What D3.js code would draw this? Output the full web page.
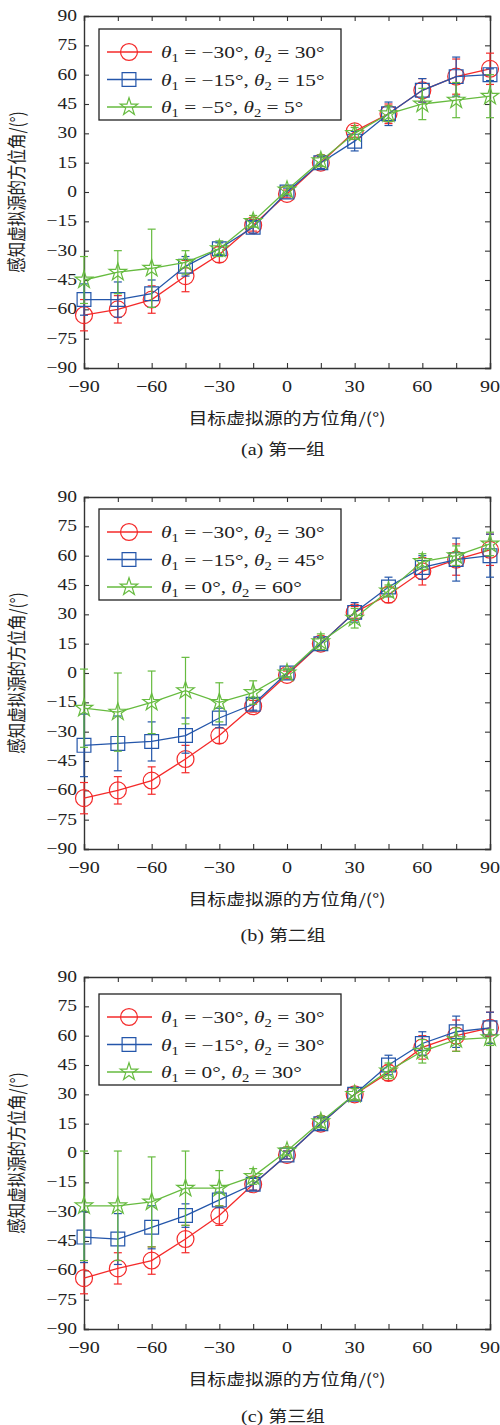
<!DOCTYPE html>
<html>
<head>
<meta charset="utf-8">
<script src="https://cdn.jsdelivr.net/npm/d3@7"></script>
<style>
  body { margin: 0; background: #fff; }
  text { font-family: "Liberation Serif", "DejaVu Serif", serif; fill: #222; }
  .cjk { font-family: "Noto Sans CJK SC", sans-serif; }
</style>
</head>
<body>
<div id="chart"></div>
<script>
// target angles (x) shared by all three groups
var xAngles = [-90, -75, -60, -45, -30, -15, 0, 15, 30, 45, 60, 75, 90];
var axisTicks = [-90, -75, -60, -45, -30, -15, 0, 15, 30, 45, 60, 75, 90];
var xLabelTicks = [-90, -60, -30, 0, 30, 60, 90];

// (a) group one
var aRed = [-63, -60, -55, -43, -32, -17, -1, 15, 31, 40, 52, 59, 63];
var aRedErr = [8, 7, 7, 8, 4, 3, 2, 3, 3, 5, 6, 9, 8];
var aBlue = [-55, -55, -52, -38, -29, -18, 0, 15, 26, 40, 52, 59, 60];
var aBlueErr = [8, 9, 7, 5, 3, 3, 2, 3, 5, 6, 6, 10, 3];
var aGreen = [-45, -41, -39, -36, -29, -15, 1, 16, 30, 40, 45, 47, 49];
var aGreenErr = [12, 11, 20, 6, 4, 3, 2, 3, 3, 4, 8, 9, 11];
var aLegend = [["\u221230\u00b0", "30\u00b0"], ["\u221215\u00b0", "15\u00b0"], ["\u22125\u00b0", "5\u00b0"]];

// (b) group two
var bRed = [-64, -60, -55, -44, -32, -17, -1, 15, 31, 40, 52, 58, 63];
var bRedErr = [8, 7, 7, 7, 4, 3, 2, 3, 3, 4, 7, 8, 8];
var bBlue = [-37, -36, -35, -32, -23, -16, 0, 15, 31, 44, 54, 58, 60];
var bBlueErr = [16, 14, 10, 9, 5, 3, 2, 3, 5, 5, 6, 11, 11];
var bGreen = [-18, -20, -15, -9, -15, -10, 0, 16, 28, 42, 57, 60, 66];
var bGreenErr = [20, 20, 16, 17, 10, 6, 2, 4, 5, 3, 4, 5, 6];
var bLegend = [["\u221230\u00b0", "30\u00b0"], ["\u221215\u00b0", "45\u00b0"], ["0\u00b0", "60\u00b0"]];

// (c) group three
var cRed = [-64, -59, -55, -44, -32, -16, -1, 15, 30, 41, 54, 60, 64];
var cRedErr = [8, 8, 7, 7, 5, 3, 2, 3, 3, 4, 6, 8, 8];
var cBlue = [-43, -44, -38, -32, -24, -16, -1, 15, 30, 45, 56, 62, 64];
var cBlueErr = [13, 13, 11, 6, 4, 3, 2, 3, 3, 5, 6, 8, 8];
var cGreen = [-27, -27, -25, -18, -18, -12, 1, 16, 30, 42, 52, 58, 59];
var cGreenErr = [28, 28, 23, 19, 9, 4, 2, 3, 3, 4, 6, 6, 4];
var cLegend = [["\u221230\u00b0", "30\u00b0"], ["\u221215\u00b0", "30\u00b0"], ["0\u00b0", "30\u00b0"]];

var captions = ["(a) \u7b2c\u4e00\u7ec4", "(b) \u7b2c\u4e8c\u7ec4", "(c) \u7b2c\u4e09\u7ec4"];
var xTitle = "\u76ee\u6807\u865a\u62df\u6e90\u7684\u65b9\u4f4d\u89d2/(\u00b0)";
var yTitle = "\u611f\u77e5\u865a\u62df\u6e90\u7684\u65b9\u4f4d\u89d2/(\u00b0)";

var colors = ["#f42a2a", "#2456aa", "#66bb3f"];
var SX = 1.22; // the figure is stretched horizontally

var panels = [
    {top: 16, caption: 455, legendY: 13, series: [[aRed, aRedErr], [aBlue, aBlueErr], [aGreen, aGreenErr]], legend: aLegend},
    {top: 497, caption: 941, legendY: 12, series: [[bRed, bRedErr], [bBlue, bBlueErr], [bGreen, bGreenErr]], legend: bLegend},
    {top: 977, caption: 1422, legendY: 17, series: [[cRed, cRedErr], [cBlue, cBlueErr], [cGreen, cGreenErr]], legend: cLegend}
];

var left = 84, right = 490, plotH = 352;

var svg = d3.select("#chart").append("svg")
    .attr("width", 500)
    .attr("height", 1425);

var x = d3.scaleLinear().domain([-90, 90]).range([left, right]);

var symbols = [
    d3.symbol().type(d3.symbolCircle).size(225),
    d3.symbol().type(d3.symbolSquare).size(190),
    d3.symbol().type(d3.symbolStar).size(95)
];

function addText(g, px, py, anchor, size) {
    return g.append("text")
        .attr("transform", "translate(" + px + "," + py + ") scale(" + SX + ",1)")
        .attr("text-anchor", anchor)
        .style("font-size", size + "px");
}

function fmt(v) {
    return v < 0 ? "\u2212" + Math.abs(v) : String(v);
}

panels.forEach(function (p, pi) {
    var g = svg.append("g");
    var y = d3.scaleLinear().domain([-90, 90]).range([p.top + plotH, p.top]);

    // axes with inward ticks on all four sides
    var bottomAxis = d3.axisBottom(x).tickValues(axisTicks).tickSize(-5).tickFormat("");
    var topAxis = d3.axisTop(x).tickValues(axisTicks).tickSize(-5).tickFormat("");
    var leftAxis = d3.axisLeft(y).tickValues(axisTicks).tickSize(-5).tickFormat("");
    var rightAxis = d3.axisRight(y).tickValues(axisTicks).tickSize(-5).tickFormat("");

    [[bottomAxis, "translate(0," + (p.top + plotH) + ")"],
     [topAxis, "translate(0," + p.top + ")"],
     [leftAxis, "translate(" + left + ",0)"],
     [rightAxis, "translate(" + right + ",0)"]].forEach(function (a) {
        var ag = g.append("g").attr("transform", a[1]).call(a[0]);
        ag.select(".domain").attr("stroke", "#333").attr("stroke-width", 1.4);
        ag.selectAll(".tick line").attr("stroke", "#333").attr("stroke-width", 1.1);
    });

    // tick labels
    axisTicks.forEach(function (v) {
        addText(g, left - 7, y(v) + 5, "end", 16).text(fmt(v));
    });
    xLabelTicks.forEach(function (v) {
        addText(g, x(v), p.top + plotH + 24, "middle", 16.5).text(fmt(v));
    });

    // axis titles and caption
    addText(g, 287, p.top + plotH + 56, "middle", 15.5).attr("class", "cjk").text(xTitle);
    g.append("text")
        .attr("class", "cjk")
        .attr("transform", "translate(24," + (p.top + plotH / 2) + ") scale(" + SX + ",1) rotate(-90)")
        .attr("text-anchor", "middle")
        .style("font-size", "15.5px")
        .text(yTitle);
    var cap = addText(g, 283, p.caption, "middle", 16.5);
    cap.append("tspan").text(captions[pi].slice(0, 4));
    cap.append("tspan").attr("class", "cjk").style("font-size", "15.5px").text(captions[pi].slice(4));

    // series: line, error bars, markers
    p.series.forEach(function (s, si) {
        var vals = s[0], errs = s[1];
        var pts = xAngles.map(function (a, i) { return {x: a, y: vals[i], e: errs[i]}; });
        var col = colors[si];
        var sg = g.append("g");

        var line = d3.line()
            .x(function (d) { return x(d.x); })
            .y(function (d) { return y(d.y); });

        sg.append("path")
            .attr("d", line(pts))
            .attr("fill", "none")
            .attr("stroke", col)
            .attr("stroke-width", 1.3);

        pts.forEach(function (d) {
            var cx = x(d.x), y1 = y(d.y - d.e), y2 = y(d.y + d.e);
            sg.append("line").attr("x1", cx).attr("x2", cx).attr("y1", y1).attr("y2", y2)
                .attr("stroke", col).attr("stroke-width", 1.2);
            sg.append("line").attr("x1", cx - 4).attr("x2", cx + 4).attr("y1", y1).attr("y2", y1)
                .attr("stroke", col).attr("stroke-width", 1.2);
            sg.append("line").attr("x1", cx - 4).attr("x2", cx + 4).attr("y1", y2).attr("y2", y2)
                .attr("stroke", col).attr("stroke-width", 1.2);
        });

        sg.selectAll("path.mk")
            .data(pts)
            .enter().append("path")
            .attr("class", "mk")
            .attr("d", symbols[si])
            .attr("transform", function (d) { return "translate(" + x(d.x) + "," + y(d.y) + ")"; })
            .attr("fill", "none")
            .attr("stroke", col)
            .attr("stroke-width", 1.2);
    });

    // legend
    var lx = 99, ly = p.top + p.legendY;
    g.append("rect")
        .attr("x", lx).attr("y", ly).attr("width", 242).attr("height", 91)
        .attr("fill", "#fff").attr("stroke", "#222").attr("stroke-width", 1.3);

    p.legend.forEach(function (lab, li) {
        var ry = ly + 23 + li * 27.5;
        var col = colors[li];
        g.append("line").attr("x1", lx + 8).attr("x2", lx + 53).attr("y1", ry).attr("y2", ry)
            .attr("stroke", col).attr("stroke-width", 1.3);
        g.append("path").attr("d", symbols[li])
            .attr("transform", "translate(" + (lx + 30) + "," + ry + ")")
            .attr("fill", "none").attr("stroke", col).attr("stroke-width", 1.2);

        var t = addText(g, lx + 62, ry + 6, "start", 17.5);
        t.append("tspan").style("font-style", "italic").text("\u03b8");
        t.append("tspan").attr("dy", 4).style("font-size", "12px").text("1");
        t.append("tspan").attr("dy", -4).text(" = " + lab[0] + ", ");
        t.append("tspan").style("font-style", "italic").text("\u03b8");
        t.append("tspan").attr("dy", 4).style("font-size", "12px").text("2");
        t.append("tspan").attr("dy", -4).text(" = " + lab[1]);
    });
});
</script>
</body>
</html>
